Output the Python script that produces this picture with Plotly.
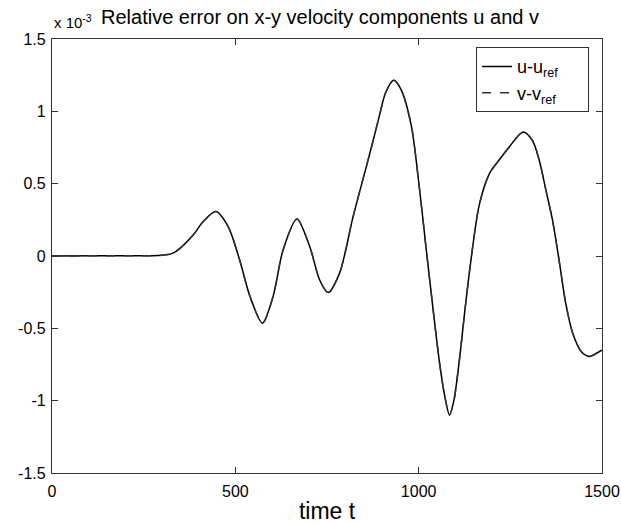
import plotly.graph_objects as go

# time samples and error values (in units of 1e-3)
t = [0, 140, 299, 330, 349, 385, 413, 447, 481, 512, 540, 574, 603, 630, 668,
     703, 730, 753, 784, 821, 848, 871, 893, 910, 932, 952, 980, 1002, 1020, 1038,
     1057, 1072, 1084, 1096, 1111, 1125, 1140, 1165, 1193, 1220, 1247, 1285, 1310,
     1329, 1347, 1365, 1383, 1401, 1420, 1443, 1466, 1493, 1500]
u_err = [0, 0.002, 0.005, 0.02, 0.053, 0.145, 0.24, 0.307, 0.2, -0.03, -0.28,
         -0.464, -0.28, 0.04, 0.255, 0.064, -0.166, -0.253, -0.12, 0.27, 0.53, 0.75,
         0.97, 1.13, 1.214, 1.15, 0.9, 0.47, 0.06, -0.34, -0.74, -0.98, -1.1, -1.0,
         -0.72, -0.4, -0.08, 0.35, 0.57, 0.665, 0.754, 0.857, 0.8, 0.66, 0.455, 0.248,
         -0.03, -0.326, -0.533, -0.66, -0.694, -0.66, -0.65]
v_err = list(u_err)

x_ticks = [0, 500, 1000, 1500]
x_labels = ["0", "500", "1000", "1500"]
y_ticks = [-1.5, -1, -0.5, 0, 0.5, 1, 1.5]
y_labels = ["-1.5", "-1", "-0.5", "0", "0.5", "1", "1.5"]

FONT = "Liberation Sans, Arial, Helvetica"

fig = go.Figure()
fig.add_trace(go.Scatter(x=t, y=u_err, mode="lines",
                         name="u-u<sub>ref</sub>\u00a0\u00a0\u00a0\u00a0\u00a0",
                         line=dict(color="black", width=1.5, shape="spline", smoothing=0.8)))
fig.add_trace(go.Scatter(x=t, y=v_err, mode="lines",
                         name="v-v<sub>ref</sub>\u00a0\u00a0\u00a0\u00a0\u00a0",
                         line=dict(color="#333333", width=1.5, dash="dash",
                                   shape="spline", smoothing=0.8)))

axis_common = dict(showline=True, linecolor="#333333", linewidth=1.2, mirror="ticks",
                   ticks="inside", ticklen=6, tickcolor="#333333", showgrid=False,
                   zeroline=False, automargin=False,
                   tickfont=dict(family=FONT, size=16, color="black"))

fig.update_layout(
    width=621, height=524,
    margin=dict(l=52, r=19, t=39, b=51, autoexpand=False),
    paper_bgcolor="white", plot_bgcolor="white",
    font=dict(family=FONT, color="black"),
    xaxis=dict(range=[0, 1500], tickvals=x_ticks, ticktext=x_labels,
               ticklabelstandoff=4,
               title=dict(text="time t", font=dict(family=FONT, size=23), standoff=4),
               **axis_common),
    yaxis=dict(range=[-1.5, 1.5], tickvals=y_ticks, ticktext=y_labels,
               ticklabelstandoff=2, **axis_common),
    showlegend=True,
    legend=dict(x=0.771, y=0.981, xanchor="left", yanchor="top",
                bordercolor="#333333", borderwidth=1, bgcolor="white",
                font=dict(family=FONT, size=18)),
)
fig.add_annotation(text="x 10<sup>-3</sup>", xref="paper", yref="paper",
                   x=0.0, y=1.0, xanchor="left", yanchor="bottom", yshift=6,
                   showarrow=False, font=dict(family=FONT, size=15))
fig.add_annotation(text="Relative error on x-y velocity components u and v",
                   xref="paper", yref="paper", x=0.085, y=1.0, xanchor="left",
                   yanchor="bottom", yshift=9, showarrow=False,
                   font=dict(family=FONT, size=20))

fig.write_html("out.html")
